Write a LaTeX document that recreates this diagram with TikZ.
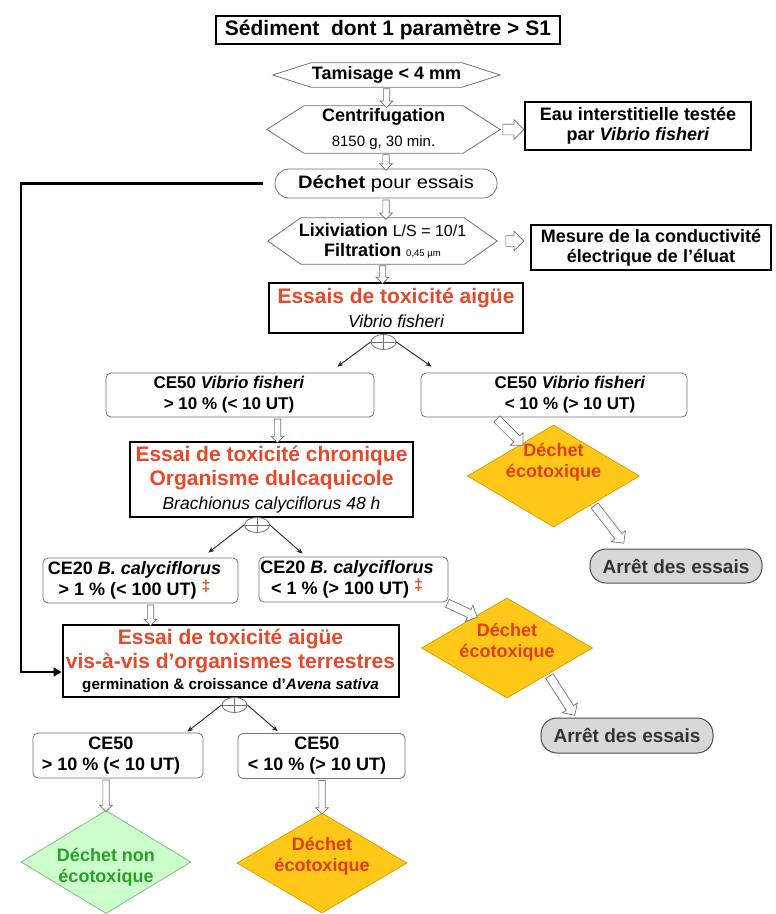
\documentclass[tikz,border=0pt]{standalone}
\usepackage{fontspec}
\setmainfont{Liberation Sans}
\usetikzlibrary{shapes.geometric,shapes.arrows,calc,arrows.meta}
\definecolor{hdrred}{RGB}{232,72,42}
\definecolor{dred}{RGB}{224,60,24}
\definecolor{gold}{RGB}{255,200,24}
\definecolor{goldline}{RGB}{214,160,0}
\definecolor{lgreen}{RGB}{204,255,204}
\definecolor{greenline}{RGB}{130,190,130}
\definecolor{gtext}{RGB}{40,160,40}
\definecolor{lgrey}{RGB}{216,216,216}
\definecolor{outl}{RGB}{115,115,115}
\newcommand\fnTitle{\fontsize{21}{25}\selectfont\bfseries}
\newcommand\fnTop{\fontsize{18}{20}\selectfont\bfseries}
\newcommand\fnMain{\fontsize{18}{21}\selectfont\bfseries}
\newcommand\fnCe{\fontsize{17}{21}\selectfont\bfseries}
\newcommand\fnRed{\fontsize{21}{24}\selectfont\bfseries}
\newcommand\fnIt{\fontsize{17.5}{18}\selectfont\mdseries\itshape}
\newcommand\fnSmall{\fontsize{15}{15}\selectfont\mdseries}
\newcommand\fnMid{\fontsize{16}{16}\selectfont\mdseries}
\newcommand\fnTiny{\fontsize{9.5}{11}\selectfont\mdseries}
\newcommand\fnAva{\fontsize{15.2}{17}\selectfont\bfseries}
\newcommand\fnStop{\fontsize{19}{21}\selectfont\bfseries}
\newcommand\reddag{\textcolor{hdrred}{\raisebox{4pt}{\fontsize{16}{16}\selectfont ‡}}}
\newcommand\hexframe[2]{\draw[hexline] (#1.west) -- ([xshift=#2]#1.north west) -- ([xshift=-#2]#1.north east) -- (#1.east) -- ([xshift=-#2]#1.south east) -- ([xshift=#2]#1.south west) -- cycle;}
\newcommand\hollowarr[4][harrow]{\path let \p1=(#3), \p2=(#4), \n1={atan2(\y2-\y1,\x2-\x1)}, \n2={veclen(\x2-\x1,\y2-\y1)} in node[#1, minimum height=\n2, rotate=\n1] (#2) at ($(\p1)!0.5!(\p2)$) {};}
\tikzset{
 plainbox/.style={draw=black, line width=1.4pt, inner sep=0pt, align=center, font=\fnTop},
 heavybox/.style={draw=black, line width=2pt, inner sep=0pt, align=center, fill=white},
 softbox/.style={draw=outl, line width=0.8pt, rounded corners=5pt, inner sep=0pt},
 boxtext/.style={font=\fnMain, align=center, inner sep=0pt},
 hexbase/.style={inner sep=0pt, align=center, font=\fnTop},
 hexline/.style={draw=outl, line width=0.8pt},
 oval/.style={draw=outl, line width=0.8pt, rounded corners=14pt, inner sep=0pt, font=\fnTop},
 ecodiam/.style={diamond, draw=goldline, fill=gold, line width=0.8pt, inner sep=0pt},
 greendiam/.style={diamond, draw=greenline, fill=lgreen, line width=0.8pt, inner sep=0pt},
 diamtext/.style={font=\fnMain, align=center, inner sep=0pt},
 stopoval/.style={draw=black!70, fill=lgrey, line width=1pt, rounded corners=16pt, inner sep=0pt, font=\fnStop, text=black!80},
 opnode/.style={ellipse, draw=outl, line width=0.8pt, fill=white, minimum width=25pt, minimum height=15pt, inner sep=0pt},
 splitarrow/.style={draw=black!85, line width=0.9pt, -{Stealth[length=6pt,width=5pt]}},
 bigarrow/.style={draw=black, line width=2.8pt, -{Triangle[length=8pt,width=9pt]}},
 harrow/.style={single arrow, draw=outl, fill=white, line width=0.7pt, inner xsep=0pt, inner ysep=2.8pt, single arrow head extend=3.2pt, single arrow tip angle=90, anchor=center},
 harrowwide/.style={harrow, inner ysep=5pt, single arrow head extend=4.5pt},
 harrowdiag/.style={harrow, inner ysep=4pt, single arrow head extend=4.5pt}
}
\begin{document}
\begin{tikzpicture}[x=1pt,y=-1pt]
\useasboundingbox (0,0) rectangle (776,914);
\fill[white] (0,0) rectangle (776,914);

% top chain
\node[plainbox, line width=1.3pt, font=\fnTitle, minimum width=344, minimum height=28] (title) at (388,30) {Sédiment\hspace{0.55em}dont 1 paramètre > S1};
\node[hexbase, minimum width=227, minimum height=24] (tam) at (386.5,75) {Tamisage < 4 mm};
\hexframe{tam}{38pt}
\node[hexbase, minimum width=233, minimum height=47] (cen) at (383.5,129.5) {Centrifugation\\[5pt]{\fnSmall 8150 g, 30 min.}};
\hexframe{cen}{37pt}
\node[plainbox, line width=1.5pt, minimum width=226, minimum height=48] (eau) at (638,126) {Eau interstitielle testée\\par \textit{Vibrio fisheri}};
\node[oval, minimum width=222, minimum height=29] (dech) at (386,183.5) {\scalebox{1.12}[1]{Déchet {\mdseries pour essais}}};
\node[hexbase, minimum width=229, minimum height=46] (lix) at (382.5,241) {Lixiviation {\fnMid L/S = 10/1}\\Filtration {\fnTiny 0,45 µm}};
\hexframe{lix}{33pt}
\node[plainbox, line width=1.5pt, minimum width=240, minimum height=45] (mes) at (651,247.5) {Mesure de la conductivité\\électrique de l'éluat};
\node[heavybox, font=\fnRed, minimum width=254, minimum height=50] (ess) at (396,308) {\textcolor{hdrred}{Essais de toxicité aigüe}\\{\fnIt Vibrio fisheri}};

% first split
\node[opnode] (op1) at (383.5,342) {};
\draw[outl, line width=0.8pt] (op1.north) -- (op1.south) (op1.west) -- (op1.east);
\node[softbox, minimum width=268, minimum height=44] (ce50l) at (240,395) {};
\node[boxtext, font=\fnCe] (ce50lt) at (229,395) {CE50 \textit{Vibrio fisheri}\\> 10 \% (< 10 UT)};
\node[softbox, minimum width=266, minimum height=44] (ce50r) at (554,395) {};
\node[boxtext, font=\fnCe] (ce50rt) at (570,395) {CE50 \textit{Vibrio fisheri}\\< 10 \% (> 10 UT)};
\draw[splitarrow] (op1.west) -- ([xshift=-37pt,yshift=6pt]ce50l.north east);
\draw[splitarrow] (op1.east) -- ([xshift=11pt,yshift=6pt]ce50r.north west);

\node[heavybox, font=\fnRed, minimum width=283, minimum height=75] (chr) at (271.5,479.5) {\textcolor{hdrred}{Essai de toxicité chronique}\\\textcolor{hdrred}{Organisme dulcaquicole}\\{\fnIt Brachionus calyciflorus 48 h}};
\node[ecodiam, minimum width=172, minimum height=102] (d1) at (553.5,476) {};
\node[diamtext, text=dred] (d1t) at (553.5,462.5) {Déchet\\écotoxique};
\node[stopoval, minimum width=172, minimum height=34] (arr1) at (676,566) {Arrêt des essais};

% second split
\node[opnode] (op2) at (257,525) {};
\draw[outl, line width=0.8pt] (op2.north) -- (op2.south) (op2.west) -- (op2.east);
\node[softbox, minimum width=195, minimum height=45] (ce20l) at (140.5,580.5) {};
\node[boxtext] (ce20lt) at (134.5,580.5) {CE20 \textit{B. calyciflorus}\\> 1 \% (< 100 UT) \reddag};
\node[softbox, minimum width=189, minimum height=45] (ce20r) at (353.5,579.5) {};
\node[boxtext] (ce20rt) at (347,579.5) {CE20 \textit{B. calyciflorus}\\< 1 \% (> 100 UT) \reddag};
\draw[splitarrow] (op2.west) -- ([xshift=-30pt,yshift=5pt]ce20l.north east);
\draw[splitarrow] (op2.east) -- ([xshift=44pt,yshift=3pt]ce20r.north west);

\node[heavybox, font=\fnRed, minimum width=336, minimum height=72] (ave) at (230.5,661) {\textcolor{hdrred}{Essai de toxicité aigüe}\\\textcolor{hdrred}{vis-à-vis d’organismes terrestres}\\[-3pt]{\fnAva germination \& croissance d’\textit{Avena sativa}}};
\node[ecodiam, minimum width=171, minimum height=100] (d2) at (507,648) {};
\node[diamtext, text=dred] (d2t) at (507,642) {Déchet\\écotoxique};
\node[stopoval, minimum width=172, minimum height=35] (arr2) at (627,735.5) {Arrêt des essais};

% third split
\node[opnode] (op3) at (234.5,705) {};
\draw[outl, line width=0.8pt] (op3.north) -- (op3.south) (op3.west) -- (op3.east);
\node[softbox, minimum width=170, minimum height=45] (ce50bl) at (118,755.5) {};
\node[boxtext] (ce50blt) at (111,755.5) {CE50\\> 10 \% (< 10 UT)};
\node[softbox, minimum width=167, minimum height=45] (ce50br) at (321.5,756) {};
\node[boxtext] (ce50brt) at (317,756) {CE50\\< 10 \% (> 10 UT)};
\draw[splitarrow] (op3.west) -- ([xshift=-16pt,yshift=1pt]ce50bl.north east);
\draw[splitarrow] (op3.east) -- ([xshift=40pt,yshift=2pt]ce50br.north west);
\node[greendiam, minimum width=170, minimum height=103] (dg) at (106,862) {};
\node[diamtext, text=gtext] (dgt) at (106,867) {Déchet non\\écotoxique};
\node[ecodiam, minimum width=170, minimum height=100] (d3) at (322,863) {};
\node[diamtext, text=dred] (d3t) at (322,856) {Déchet\\écotoxique};

% thick connector
\coordinate (lx) at (21,672);
\draw[bigarrow] ([xshift=-12pt]dech.west) -| (lx) -- (lx -| ave.west);

% hollow arrows
\coordinate (c1) at (cen.east -| eau.west);
\coordinate (c2) at (lix.east -| mes.west);
\coordinate (c3) at ([xshift=6pt]chr.north);
\coordinate (c4) at ([xshift=10pt]ce20l.south);
\hollowarr{h1}{tam.south}{tam.south |- cen.north}
\hollowarr[harrowwide]{h2}{[xshift=0pt]cen.east}{[xshift=-3pt]c1}
\hollowarr{h3}{dech.north |- cen.south}{dech.north}
\hollowarr{h4}{dech.south}{dech.south |- lix.north}
\hollowarr[harrowwide]{h5}{[xshift=6pt]lix.east}{[xshift=-9pt]c2}
\hollowarr{h6}{lix.south}{lix.south |- ess.north}
\hollowarr{h7}{c3 |- ce50l.south}{c3}
\hollowarr[harrowdiag]{h8}{$(ce50r.south west)!0.28!(ce50r.south east)$}{$(d1.north)!0.37!(d1.west)$}
\hollowarr[harrowdiag]{h9}{$(d1.east)!0.54!(d1.south)$}{[xshift=33pt,yshift=7pt]arr1.north west}
\hollowarr{h10}{c4}{c4 |- ave.north}
\hollowarr[harrowdiag]{h11}{[xshift=-3pt]ce20r.south east}{$(d2.north)!0.37!(d2.west)$}
\hollowarr[harrowdiag]{h12}{$(d2.east)!0.52!(d2.south)$}{[xshift=33pt,yshift=4pt]arr2.north west}
\hollowarr{h13}{dg.north |- ce50bl.south}{dg.north}
\hollowarr{h14}{d3.north |- ce50br.south}{d3.north}
\end{tikzpicture}
\end{document}
